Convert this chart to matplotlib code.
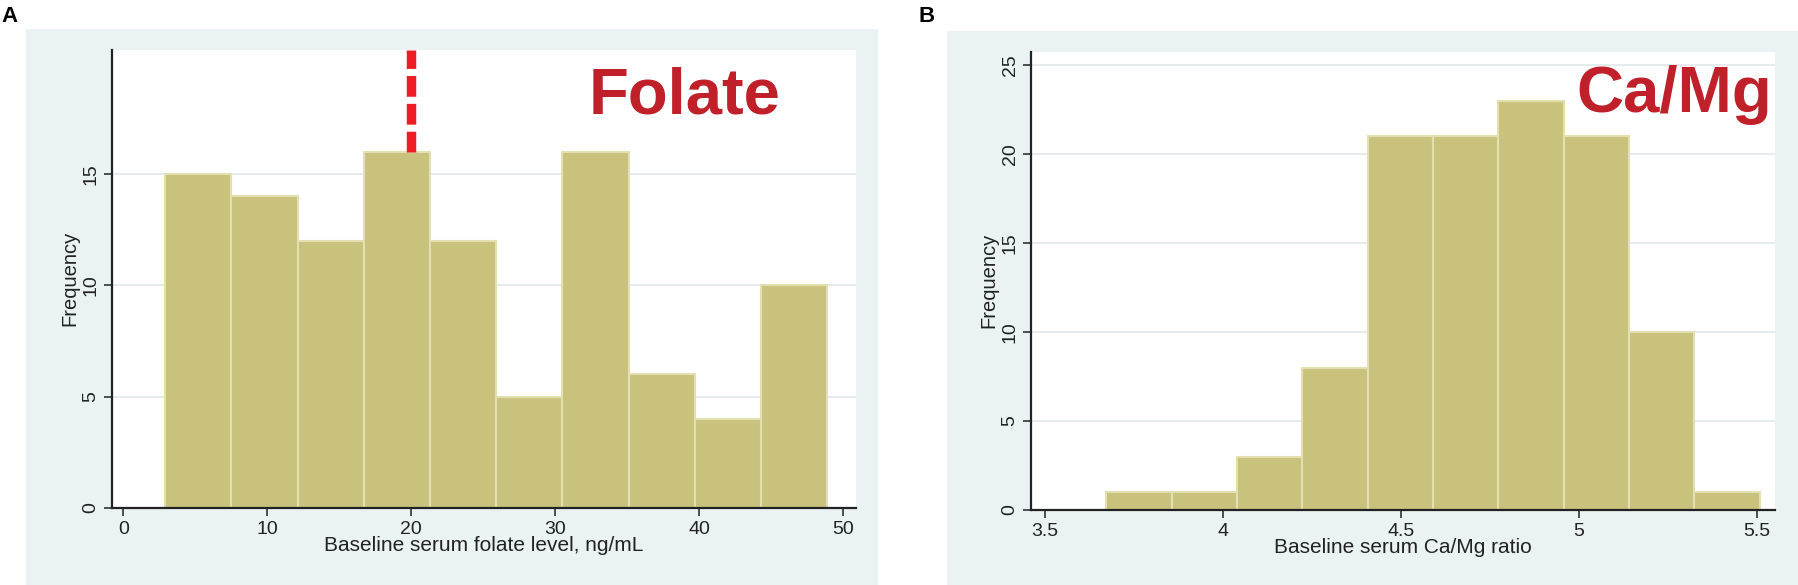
import numpy as np
import matplotlib
matplotlib.use("Agg")
import matplotlib.pyplot as plt
from matplotlib.patches import Rectangle

plt.rcParams['font.family'] = ['Liberation Sans', 'DejaVu Sans']

# panel A: folate histogram
folate_start = 2.9
folate_width = 4.6
folate_counts = [15, 14, 12, 16, 12, 5, 16, 6, 4, 10]
folate_xticks = [0, 10, 20, 30, 40, 50]
folate_yticks = [0, 5, 10, 15]
folate_cut = 20

# panel B: Ca/Mg ratio histogram
camg_start = 3.673
camg_width = 0.1835
camg_counts = [1, 1, 3, 8, 21, 21, 23, 21, 10, 1]
camg_xticks = [3.5, 4, 4.5, 5, 5.5]
camg_yticks = [0, 5, 10, 15, 20, 25]

W, H = 1798, 585
bg = '#eaf2f3'
bar_col = '#c9c27d'
bar_edge = '#e3dfb0'
red = '#c0202a'

fig = plt.figure(figsize=(W / 100, H / 100), dpi=100)
fig.patch.set_facecolor('white')

def px(x0, y0, x1, y1):
    # pixel box (top-left origin) -> figure fraction
    return [x0 / W, 1 - y1 / H, (x1 - x0) / W, (y1 - y0) / H]

# light graph-region backgrounds
for x0, y0, x1, y1 in [(26, 29, 878, 585), (947, 31, 1798, 585)]:
    fig.patches.append(Rectangle((x0 / W, 1 - y1 / H), (x1 - x0) / W, (y1 - y0) / H,
                                 transform=fig.transFigure, facecolor=bg,
                                 edgecolor='none', zorder=-5))

def style(ax, xticks, yticks, xlim, ylim, xlabel):
    ax.set_zorder(2)
    ax.set_facecolor('white')
    ax.set_xlim(*xlim)
    ax.set_ylim(*ylim)
    ax.set_xticks(xticks)
    ax.set_xticklabels([f'{t:g}' for t in xticks])
    ax.set_yticks(yticks)
    ax.set_yticklabels([f'{t:g}' for t in yticks], rotation=90, va='center')
    for s in ['top', 'right']:
        ax.spines[s].set_visible(False)
    for s in ['left', 'bottom']:
        ax.spines[s].set_linewidth(1.6)
        ax.spines[s].set_color('#222222')
    ax.tick_params(length=6, width=1.1, color='#222222', labelsize=14,
                   labelcolor='#222222', pad=3)
    ax.set_axisbelow(True)
    for t in yticks[1:]:
        ax.axhline(t, color='#e4ecee', lw=1.4, zorder=0)
    ax.set_xlabel(xlabel, fontsize=15, color='#222222', labelpad=-1)
    ax.set_ylabel('Frequency', fontsize=14.5, color='#222222', labelpad=2)

# ---- A ----
axA = fig.add_axes(px(112, 49.6, 856, 508))
edgesA = folate_start + folate_width * np.arange(len(folate_counts))
axA.bar(edgesA, folate_counts, width=folate_width, align='edge',
        color=bar_col, edgecolor=bar_edge, linewidth=1.5, zorder=2)
style(axA, folate_xticks, folate_yticks, (-0.79, 50.9), (0, 20.6),
      'Baseline serum folate level, ng/mL')
axA.vlines(folate_cut, max(folate_counts), 20.6, colors='#ee1c25', lw=6.8,
           linestyles=(0, (2.2, 0.75)), zorder=3)
fig.text(589 / W, 1 - 114 / H, 'Folate', fontsize=47, fontweight='bold',
         color=red, ha='left', va='baseline', zorder=5)
fig.text(10 / W, 1 - 17 / H, 'A', fontsize=16, fontweight='bold',
         ha='center', va='center')

# ---- B ----
axB = fig.add_axes(px(1031, 51.5, 1775, 510))
edgesB = camg_start + camg_width * np.arange(len(camg_counts))
axB.bar(edgesB, camg_counts, width=camg_width, align='edge',
        color=bar_col, edgecolor=bar_edge, linewidth=1.5, zorder=2)
style(axB, camg_xticks, camg_yticks, (3.461, 5.551), (0, 25.76),
      'Baseline serum Ca/Mg ratio')
fig.text(1772 / W, 1 - 112 / H, 'Ca/Mg', fontsize=47, fontweight='bold',
         color=red, ha='right', va='baseline', zorder=5)
fig.text(927 / W, 1 - 16 / H, 'B', fontsize=16, fontweight='bold',
         ha='center', va='center')

fig.savefig('out.png', dpi=100, facecolor='white')
